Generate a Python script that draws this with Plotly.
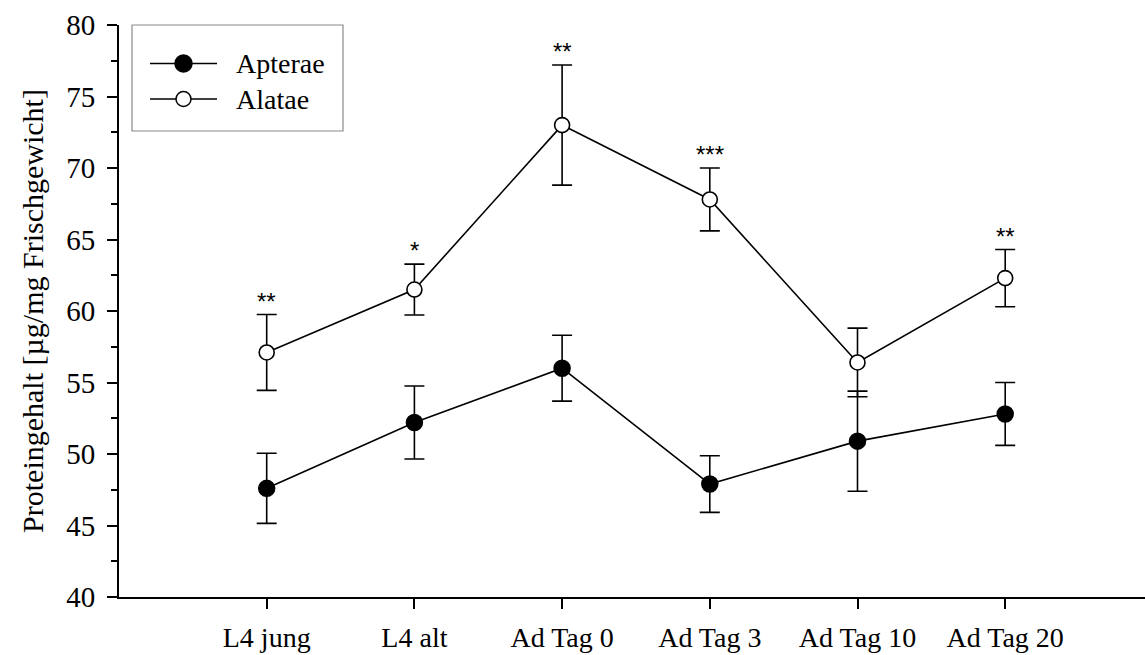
import plotly.graph_objects as go

# Stadien / Zeitpunkte
categories = ["L4 jung", "L4 alt", "Ad Tag 0", "Ad Tag 3", "Ad Tag 10", "Ad Tag 20"]

# Proteingehalt (Mittelwert ± SE) in µg/mg Frischgewicht
apterae = [47.6, 52.2, 56.0, 47.9, 50.9, 52.8]
apterae_err = [2.45, 2.55, 2.3, 1.98, 3.5, 2.2]
alatae = [57.1, 61.5, 73.0, 67.8, 56.4, 62.3]
alatae_err = [2.65, 1.78, 4.2, 2.2, 2.4, 2.0]

# Signifikanz Apterae vs. Alatae
signif = ["**", "*", "**", "***", "", "**"]

y_ticks = [40, 45, 50, 55, 60, 65, 70, 75, 80]

FONT = "Liberation Serif"
W, H = 1145, 655
ML, MR, MT, MB = 119, 0, 25, 58

fig = go.Figure()

err_style = dict(type="data", visible=True, color="black", thickness=1.6, width=10)

fig.add_trace(go.Scatter(
    x=categories, y=apterae, name="Apterae", mode="lines+markers",
    line=dict(color="black", width=1.6),
    marker=dict(symbol="circle", size=16, color="black", line=dict(color="black", width=1.5)),
    error_y=dict(array=apterae_err, **err_style),
    showlegend=False,
))
fig.add_trace(go.Scatter(
    x=categories, y=alatae, name="Alatae", mode="lines+markers",
    line=dict(color="black", width=1.6),
    marker=dict(symbol="circle", size=15, color="white", line=dict(color="black", width=1.6)),
    error_y=dict(array=alatae_err, **err_style),
    showlegend=False,
))

# Signifikanzsterne über den oberen Fehlerbalken der Alatae
for cat, m, e, s in zip(categories, alatae, alatae_err, signif):
    if s:
        fig.add_annotation(
            x=cat, y=m + e, text=s, showarrow=False,
            xanchor="center", yanchor="bottom", yshift=-2,
            font=dict(family="Liberation Sans", size=24, color="black"),
        )

# Legende als Rahmen mit Linien- und Symbolmustern
pw, ph = W - ML - MR, H - MT - MB


def px(x):
    return (x - ML) / pw


def py(y):
    return (H - MB - y) / ph


fig.add_shape(type="rect", xref="paper", yref="paper",
              x0=px(132), x1=px(343), y0=py(131), y1=py(25),
              line=dict(color="#8a8a8a", width=1.2), fillcolor="white", layer="above")

legend_rows = [("Apterae", 63.5, "black", 17), ("Alatae", 99, "white", 15)]
for label, yy, fill, d in legend_rows:
    fig.add_shape(type="line", xref="paper", yref="paper",
                  x0=px(150), x1=px(217), y0=py(yy), y1=py(yy),
                  line=dict(color="black", width=1.6), layer="above")
    fig.add_shape(type="circle", xref="paper", yref="paper",
                  xsizemode="pixel", ysizemode="pixel",
                  xanchor=px(183.5), yanchor=py(yy),
                  x0=-d / 2, x1=d / 2, y0=-d / 2, y1=d / 2,
                  fillcolor=fill, line=dict(color="black", width=1.5), layer="above")
    fig.add_annotation(xref="paper", yref="paper", x=px(234), y=py(yy),
                       text=label, showarrow=False, xanchor="left", yanchor="middle",
                       font=dict(family=FONT, size=28, color="black"))

fig.update_layout(
    width=W, height=H,
    margin=dict(l=ML, r=MR, t=MT, b=MB, pad=0),
    paper_bgcolor="white", plot_bgcolor="white",
    font=dict(family=FONT, size=28, color="black"),
    showlegend=False,
)

fig.update_xaxes(
    type="category", categoryorder="array", categoryarray=categories,
    range=[-1, -1 + pw / 147.7],
    showline=True, linecolor="black", linewidth=2,
    ticks="outside", ticklen=10, tickwidth=2, tickcolor="black",
    ticklabelstandoff=4,
    showgrid=False, zeroline=False,
    tickfont=dict(family=FONT, size=28, color="black"),
)
fig.update_yaxes(
    range=[40, 80], tickvals=y_ticks,
    showline=True, linecolor="black", linewidth=2,
    ticks="outside", ticklen=10, tickwidth=2, tickcolor="black",
    ticklabelstandoff=6,
    minor=dict(dtick=2.5, ticks="outside", ticklen=6, tickwidth=1.5, tickcolor="black", showgrid=False),
    showgrid=False, zeroline=False,
    tickfont=dict(family=FONT, size=29, color="black"),
    title=dict(text="Proteingehalt [µg/mg Frischgewicht]", font=dict(family=FONT, size=30, color="black"), standoff=14),
)

fig.write_html("out.html")
